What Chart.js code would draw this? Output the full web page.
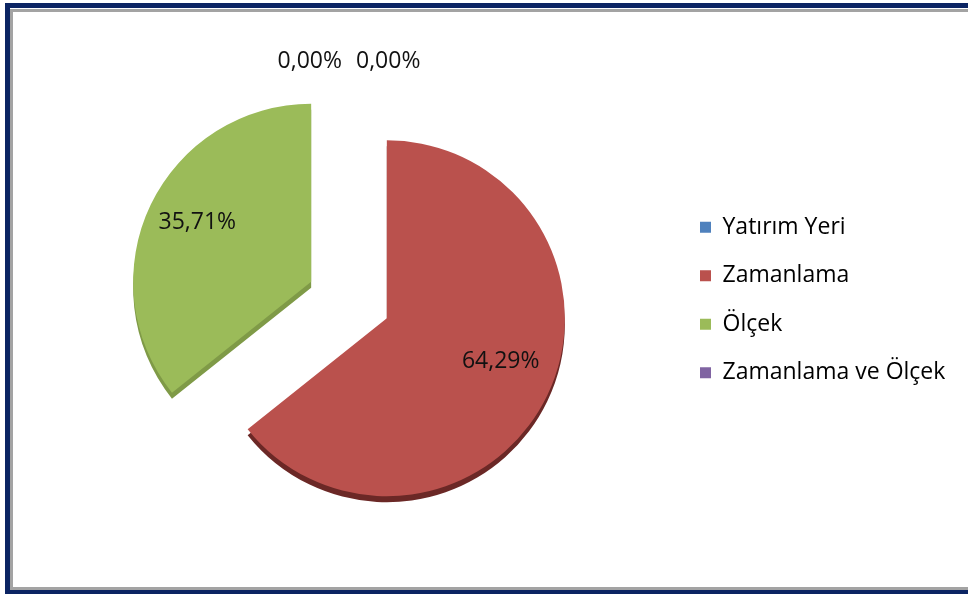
<!DOCTYPE html>
<html>
<head>
<meta charset="utf-8">
<script src="https://cdn.jsdelivr.net/npm/chart.js@4.4.1/dist/chart.umd.min.js"></script>
<style>
  html, body { margin: 0; padding: 0; background: #fff; overflow: hidden; }
  #frame { position: absolute; left: 5px; top: 3px; width: 1000px; height: 591px; box-sizing: border-box; border: 5px solid #0B2463; background: #fff; }
  #inner { position: absolute; left: 10px; top: 9px; width: 1000px; height: 581px; box-sizing: border-box; border: 3px solid #A3A3A3; }
  #chart { position: absolute; left: 0; top: 0; }
</style>
</head>
<body>
<div id="frame"></div>
<div id="inner"></div>
<canvas id="chart" width="968" height="594"></canvas>
<script>
const categories = ["Yatırım Yeri", "Zamanlama", "Ölçek", "Zamanlama ve Ölçek"];
const shares = [0, 64.29, 35.71, 0];
const sliceColors = ["#4F81BD", "#BA514D", "#9BBB59", "#8064A2"];
const sideColors = ["#3A6496", "#6B2826", "#7F9A47", "#5F4A7A"];

const FONT = "Open Sans";
const FONT_SIZE = 23;
const LEGEND_PAD = 25.5;
const BOX = 11;
const EXPLODE = 42;

// format like the Turkish Excel labels: 64,29%
const fmt = (v) => v.toFixed(2).replace(".", ",") + "%";

// size the right padding so that the legend starts at a fixed x
const measure = document.createElement("canvas").getContext("2d");
measure.font = `${FONT_SIZE}px "${FONT}"`;
const widest = Math.max(...categories.map((c) => measure.measureText(c).width));
const legendLeft = 674.5;
const legendWidth = LEGEND_PAD + BOX + FONT_SIZE / 2 + widest + 10;
const rightPad = Math.max(0, 968 - legendLeft - legendWidth);

const explodePlugin = {
  id: "explode",
  // push every slice out along its middle angle
  afterDatasetUpdate(chart, args) {
    args.meta.data.forEach((arc) => {
      const mid = (arc.startAngle + arc.endAngle) / 2;
      arc.x += Math.cos(mid) * EXPLODE;
      arc.y += Math.sin(mid) * EXPLODE;
    });
  },
  // darker copy underneath gives the thin 3D rim
  beforeDatasetDraw(chart, args) {
    const ctx = chart.ctx;
    args.meta.data.forEach((arc, i) => {
      const saved = arc.options;
      arc.options = Object.assign({}, saved, { backgroundColor: sideColors[i] });
      ctx.save();
      ctx.translate(0, 6);
      arc.draw(ctx);
      ctx.restore();
      arc.options = saved;
    });
  },
  afterDatasetsDraw(chart) {
    const ctx = chart.ctx;
    const meta = chart.getDatasetMeta(0);
    ctx.save();
    ctx.font = `${FONT_SIZE}px "${FONT}"`;
    ctx.fillStyle = "#111";
    ctx.textAlign = "center";
    ctx.textBaseline = "middle";
    meta.data.forEach((arc, i) => {
      const text = fmt(shares[i]);
      const mid = (arc.startAngle + arc.endAngle) / 2;
      let x, y;
      if (arc.circumference > 0) {
        x = arc.x + Math.cos(mid) * arc.outerRadius * 0.71;
        y = arc.y + Math.sin(mid) * arc.outerRadius * 0.66 - 8;
      } else {
        // empty slices sit on the top edge; nudge them apart
        const w = ctx.measureText(text).width;
        const side = i === 0 ? 1 : -1;
        x = arc.x + side * (w / 2 + 7);
        y = arc.y - arc.outerRadius - 19;
      }
      ctx.fillText(text, x, y);
    });
    ctx.restore();
  },
};

new Chart(document.getElementById("chart"), {
  type: "pie",
  data: {
    labels: categories,
    datasets: [
      {
        data: shares,
        backgroundColor: sliceColors,
        borderWidth: 0,
      },
    ],
  },
  options: {
    responsive: false,
    animation: false,
    layout: { padding: { top: 122, bottom: 116, left: 23.5, right: rightPad } },
    plugins: {
      legend: {
        position: "right",
        labels: {
          boxWidth: BOX,
          boxHeight: BOX,
          padding: LEGEND_PAD,
          color: "#000",
          font: { family: FONT, size: FONT_SIZE },
        },
      },
      tooltip: { enabled: false },
    },
  },
  plugins: [explodePlugin],
});
</script>
</body>
</html>
